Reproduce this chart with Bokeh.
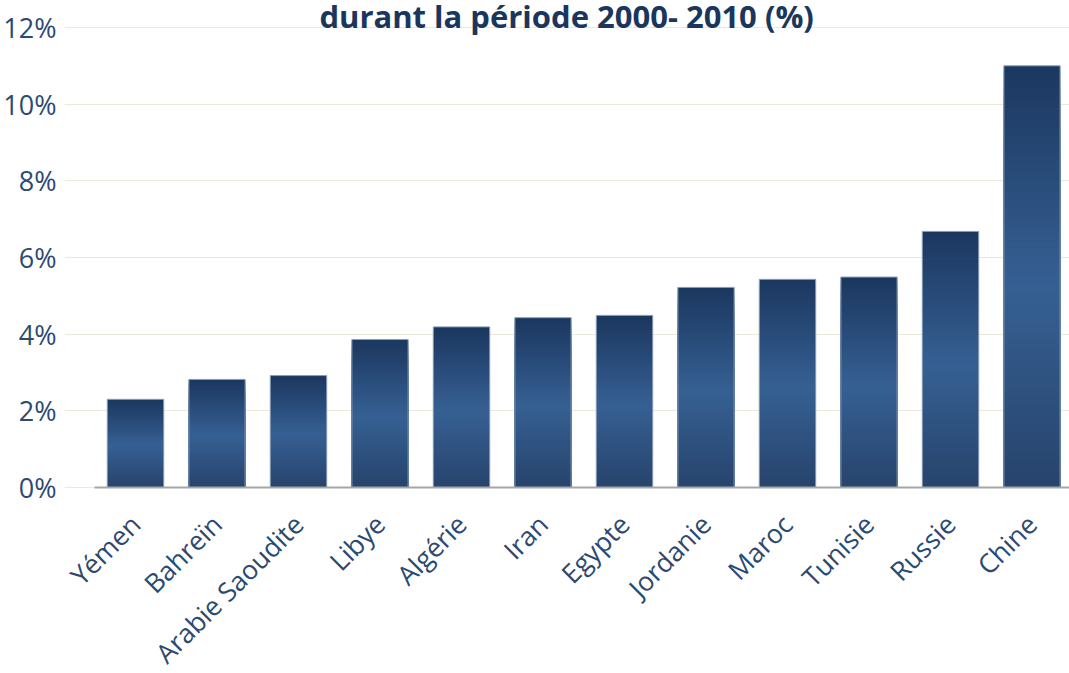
import numpy as np
from bokeh.plotting import figure
from bokeh.models import FixedTicker, PrintfTickFormatter, Label, ColumnDataSource, Range1d
from bokeh.embed import file_html
from bokeh.resources import INLINE
from math import pi

countries = ["Yémen", "Bahreïn", "Arabie Saoudite", "Libye", "Algérie", "Iran",
             "Egypte", "Jordanie", "Maroc", "Tunisie", "Russie", "Chine"]
growth = [2.3, 2.82, 2.92, 3.86, 4.19, 4.43, 4.49, 5.22, 5.43, 5.49, 6.68, 11.0]
y_ticks = [0, 2, 4, 6, 8, 10, 12]
title_text = "durant la période 2000- 2010 (%)"

TXT = "#2B4A72"
W, H = 1069, 673
# layout geometry (pixels)
FRAME_LEFT = 64
Y_PX_PER_UNIT = 460 / 12.0
Y0_PX = 487
X_PX_PER_CAT = 81.5
X0_PX = 135

y_top = Y0_PX / Y_PX_PER_UNIT
y_bot = -(H - Y0_PX) / Y_PX_PER_UNIT
x_start = -(X0_PX - FRAME_LEFT) / X_PX_PER_CAT
x_end = (W - X0_PX) / X_PX_PER_CAT

idx = list(range(len(countries)))

p = figure(x_range=Range1d(x_start, x_end), y_range=Range1d(y_bot, y_top), width=W, height=H,
           output_backend="svg", toolbar_location=None,
           min_border_left=FRAME_LEFT, min_border_right=0, min_border_top=0, min_border_bottom=0)
p.outline_line_color = None
p.background_fill_color = "white"

# gradient bars: cumulative slices (dark top, light middle, dark bottom), drawn top-down
stops_pos = [0.0, 0.52, 1.0]  # fraction from top
stops_col = [(0x1B, 0x37, 0x5F), (0x36, 0x60, 0x93), (0x27, 0x43, 0x6C)]
N = 60
xs, tops, cols = [], [], []
for i in range(N):
    f0 = i / N
    fm = (i + 0.5) / N
    rgb = [int(round(np.interp(fm, stops_pos, [s[k] for s in stops_col]))) for k in range(3)]
    for c, v in zip(idx, growth):
        xs.append(c)
        tops.append(v * (1 - f0))
        cols.append("#%02x%02x%02x" % tuple(rgb))
src = ColumnDataSource(dict(x=xs, top=tops, color=cols))

# soft shadow
p.vbar(x=idx, top=growth, width=0.715, fill_color="#000000", fill_alpha=0.07, line_color=None)
p.vbar(x="x", top="top", bottom=0, width=0.69, source=src, fill_color="color", line_color=None)
p.vbar(x=idx, top=growth, width=0.69, fill_color=None, line_color="#8A9DB8", line_width=1)

p.xgrid.grid_line_color = None
p.ygrid.grid_line_color = "#ECE9DA"
p.ygrid.grid_line_width = 1.2
p.yaxis.ticker = FixedTicker(ticks=y_ticks)
p.yaxis.formatter = PrintfTickFormatter(format="%d%%")
p.yaxis.axis_line_color = None
p.yaxis.major_tick_line_color = None
p.yaxis.minor_tick_line_color = None
p.yaxis.major_label_text_font = "Open Sans"
p.yaxis.major_label_text_font_size = "27px"
p.yaxis.major_label_text_color = TXT
p.yaxis.major_label_standoff = 2

p.xaxis.fixed_location = 0
p.xaxis.bounds = (-0.5, len(countries) - 0.5)
p.xaxis.ticker = FixedTicker(ticks=idx)
p.xaxis.major_label_overrides = {i: c for i, c in zip(idx, countries)}
p.xaxis.axis_line_color = "#A6A6A6"
p.xaxis.axis_line_width = 2
p.xaxis.major_tick_line_color = None
p.xaxis.minor_tick_line_color = None
p.xaxis.major_label_orientation = pi / 4
p.xaxis.major_label_text_font = "Open Sans"
p.xaxis.major_label_text_font_size = "26.5px"
p.xaxis.major_label_text_color = TXT
p.xaxis.major_label_standoff = 26

p.add_layout(Label(x=5.29, y=12.29, text=title_text, text_align="center",
                   text_baseline="alphabetic", text_font="Open Sans",
                   text_font_style="bold", text_font_size="31px", text_color="#1B365D"))

open("out.html", "w").write(file_html(p, INLINE))
